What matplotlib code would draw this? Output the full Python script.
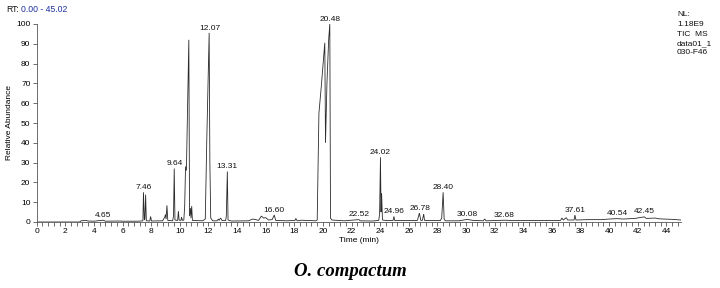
import numpy as np
import matplotlib
matplotlib.use("Agg")
import matplotlib.pyplot as plt
from matplotlib.ticker import MultipleLocator, AutoMinorLocator

# chromatogram trace vertices (retention time in min, relative abundance %)
rt = [0.0, 3.0, 3.1, 3.4, 3.6, 4.0, 4.65, 4.8, 5.8, 6.0, 7.0, 7.3,
      7.42, 7.46, 7.52, 7.56, 7.61, 7.66,
      7.9, 7.96, 8.02, 8.8,
      8.95, 9.0, 9.04, 9.1, 9.16, 9.5, 9.56, 9.61, 9.66, 9.85, 9.9, 9.95, 10.08, 10.12, 10.18,
      10.28, 10.34, 10.40, 10.46, 10.63, 10.68, 10.74, 10.78, 10.83, 10.88,
      11.6, 11.78, 11.88, 12.05, 12.1, 12.16, 12.3, 12.6, 12.7, 12.75, 12.85, 12.95,
      13.2, 13.25, 13.32, 13.37, 13.6, 14.8, 15.1, 15.3, 15.5, 15.7, 15.85, 16.0, 16.2,
      16.45, 16.6, 16.7, 17.5, 18.05, 18.1, 18.2, 18.5, 19.5,
      19.6, 19.72, 19.88, 20.13, 20.18, 20.28, 20.40, 20.48, 20.53, 20.62, 21.5, 22.52,
      22.6, 23.5, 23.9, 23.96, 24.02, 24.06, 24.1, 24.16, 24.5, 24.9, 24.96, 25.02,
      26.0, 26.6, 26.74, 26.84, 26.95, 27.04, 27.1, 28.2, 28.3, 28.40, 28.47, 28.55,
      29.5, 30.08, 30.5, 31.2, 31.3, 31.4, 32.68, 33.5, 35.5, 36.6, 36.7, 36.8, 37.0,
      37.1, 37.55, 37.61, 37.68, 38.5, 39.5, 40.0, 40.54, 41.0, 41.8, 42.45, 42.6,
      43.2, 43.5, 44.5, 45.02]
abund = [0.0, 0.0, 0.6, 0.8, 0.5, 0.4, 0.9, 0.4, 0.5, 0.4, 0.4, 0.5,
         0.6, 15.0, 1.0, 1.5, 13.8, 0.6,
         0.5, 2.8, 0.5, 0.6,
         2.5, 3.8, 1.5, 8.4, 0.8, 0.6, 3.0, 27.0, 1.0, 0.8, 5.5, 1.0, 0.8, 2.5, 0.8,
         1.0, 8.0, 28.0, 26.0, 92.0, 3.0, 7.0, 2.0, 8.0, 0.8,
         0.6, 1.5, 40.0, 95.5, 30.0, 2.0, 0.6, 0.6, 1.5, 0.8, 2.0, 0.8,
         0.7, 3.0, 25.5, 1.0, 0.5, 0.6, 1.5, 1.2, 0.8, 3.0, 2.0, 2.2, 1.0,
         1.2, 3.5, 0.8, 0.6, 0.8, 1.8, 0.6, 0.9, 0.6,
         1.0, 55.0, 68.0, 90.5, 40.0, 70.0, 92.0, 100.0, 2.0, 1.0, 0.6, 1.2,
         0.6, 0.5, 0.8, 4.0, 32.7, 5.0, 14.5, 1.0, 0.7, 0.8, 2.8, 0.7,
         0.8, 0.8, 4.5, 0.8, 0.8, 4.0, 0.8, 0.7, 2.0, 15.0, 1.5, 0.6,
         0.6, 1.3, 0.8, 0.6, 1.5, 0.6, 0.9, 0.7, 0.8, 0.8, 2.0, 1.0, 2.2,
         1.0, 1.0, 3.5, 1.0, 1.2, 1.2, 1.5, 1.7, 1.5, 1.8, 2.6, 1.8,
         2.0, 1.6, 1.3, 1.0]

# labelled peaks
peak_labels = ["4.65", "7.46", "9.64", "12.07", "13.31", "16.60", "20.48", "22.52",
               "24.02", "24.96", "26.78", "28.40", "30.08", "32.68", "37.61",
               "40.54", "42.45"]

plt.rcParams['font.family'] = ['Liberation Sans', 'DejaVu Sans']
FS = 6.0

fig = plt.figure(figsize=(7.2, 2.88), dpi=100)
ax = fig.add_axes([36.7 / 720, 1 - 222 / 288, (681 - 36.7) / 720, (222 - 24) / 288])

rt_a = np.array(rt)
ab_a = np.array(abund)
ax.plot(rt_a, ab_a, color='#2a2a2a', lw=0.6, solid_joinstyle='miter')

for lab in peak_labels:
    t = float(lab)
    m = (rt_a >= t - 0.12) & (rt_a <= t + 0.12)
    h = ab_a[m].max() if m.any() else np.interp(t, rt_a, ab_a)
    ax.annotate(lab, (t, h), xytext=(0, 1.0), textcoords='offset points',
                ha='center', va='bottom', fontsize=FS, color='#111111',
                annotation_clip=False)

ax.set_xlim(0, 45.02)
ax.set_ylim(0, 100)
ax.xaxis.set_major_locator(MultipleLocator(2))
ax.xaxis.set_minor_locator(AutoMinorLocator(5))
ax.yaxis.set_major_locator(MultipleLocator(10))
for s in ['top', 'right']:
    ax.spines[s].set_visible(False)
for s in ['left', 'bottom']:
    ax.spines[s].set_linewidth(0.6)
    ax.spines[s].set_color('#555555')
ax.tick_params(axis='both', which='major', length=3, width=0.6, color='#555555',
               labelsize=FS, pad=1.5)
ax.tick_params(axis='x', which='minor', length=3, width=0.6, color='#555555')

ax.set_xlabel('Time (min)', fontsize=FS, labelpad=1.5)
ax.set_ylabel('Relative Abundance', fontsize=FS, labelpad=2)

fig.text(6 / 720, 1 - 10 / 288, 'RT:', fontsize=6.2, va='center', ha='left', color='#111111')
fig.text(21 / 720, 1 - 10 / 288, '0.00 - 45.02', fontsize=6.2, va='center', ha='left',
         color='#1a2fa0')

info = ['NL:', '1.18E9', 'TIC  MS', 'data01_1', '030-F46']
for i, s in enumerate(info):
    fig.text(677 / 720, 1 - (15 + 9.5 * i) / 288, s, fontsize=FS, va='center', ha='left',
             color='#111111')

fig.text(350 / 720, 1 - 272 / 288, 'O. compactum', fontsize=13.5, fontweight='bold',
         fontstyle='italic', family='Liberation Serif', ha='center', va='center')

fig.savefig('out.png', dpi=100)
